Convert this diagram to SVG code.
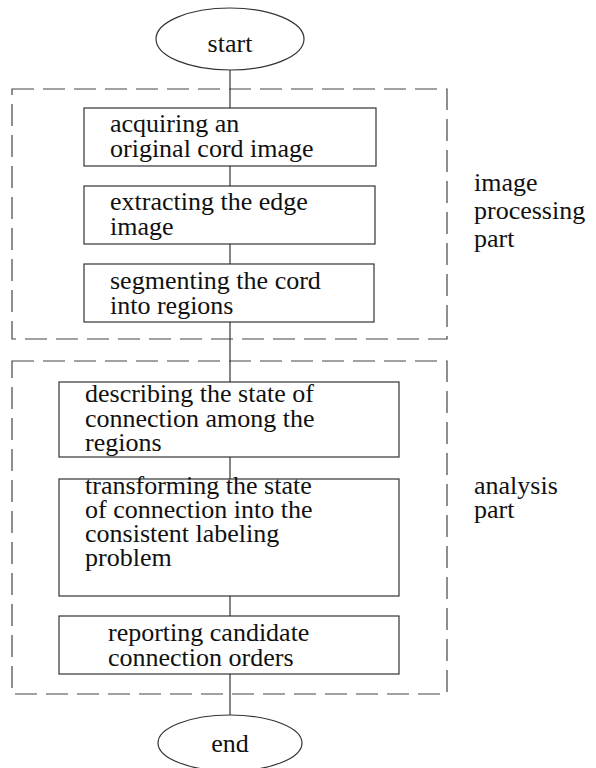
<svg xmlns="http://www.w3.org/2000/svg" width="596" height="768" viewBox="0 0 596 768">
<style>
text{font-family:"Liberation Serif","Times New Roman",serif;font-size:26px;fill:#111}
.box{fill:#fff;stroke:#333;stroke-width:1.2}
.grp{fill:none;stroke:#444;stroke-width:1.2;stroke-dasharray:22 9}
.term{fill:#fff;stroke:#333;stroke-width:1.2}
.conn{stroke:#333;stroke-width:1.2;fill:none}
</style>
<g id="groups">
<rect id="image-processing-group" class="grp" x="12" y="89" width="435" height="250"/>
<rect id="analysis-group" class="grp" x="12" y="361" width="435" height="333"/>
</g>
<g id="connectors">
<line class="conn" x1="230" y1="70" x2="230" y2="108"/>
<line class="conn" x1="230" y1="166" x2="230" y2="186"/>
<line class="conn" x1="230" y1="244" x2="230" y2="264"/>
<line class="conn" x1="230" y1="322" x2="230" y2="382"/>
<line class="conn" x1="230" y1="457" x2="230" y2="479"/>
<line class="conn" x1="230" y1="596" x2="230" y2="616"/>
<line class="conn" x1="230" y1="674" x2="230" y2="715"/>
</g>
<g id="start">
<ellipse class="term" cx="230" cy="39" rx="74" ry="31"/>
<text x="230" y="52" text-anchor="middle">start</text>
</g>
<g id="acquire">
<rect class="box" x="84" y="108" width="292" height="58"/>
<text x="110" y="132">acquiring  an</text>
<text x="110" y="157">original cord image</text>
</g>
<g id="extract">
<rect class="box" x="84" y="186" width="291" height="58"/>
<text x="110" y="210">extracting the edge</text>
<text x="110" y="235">image</text>
</g>
<g id="segment">
<rect class="box" x="84" y="264" width="290" height="58"/>
<text x="110" y="289">segmenting the cord</text>
<text x="110" y="314">into regions</text>
</g>
<g id="describe">
<rect class="box" x="59" y="382" width="340" height="75"/>
<text x="85" y="402">describing the state of</text>
<text x="85" y="427">connection among the</text>
<text x="85" y="451">regions</text>
</g>
<g id="transform">
<rect class="box" x="59" y="479" width="340" height="117"/>
<text x="85" y="494">transforming the state</text>
<text x="85" y="518">of connection into the</text>
<text x="85" y="542">consistent labeling</text>
<text x="85" y="566">problem</text>
</g>
<g id="report">
<rect class="box" x="59" y="616" width="340" height="58"/>
<text x="108" y="641">reporting candidate</text>
<text x="108" y="666">connection orders</text>
</g>
<g id="end">
<ellipse class="term" cx="230" cy="743" rx="72" ry="28"/>
<text x="230" y="752" text-anchor="middle">end</text>
</g>
<g id="labels">
<text x="474" y="191">image</text>
<text x="474" y="219">processing</text>
<text x="474" y="247">part</text>
<text x="474" y="494">analysis</text>
<text x="474" y="518">part</text>
</g>
</svg>
